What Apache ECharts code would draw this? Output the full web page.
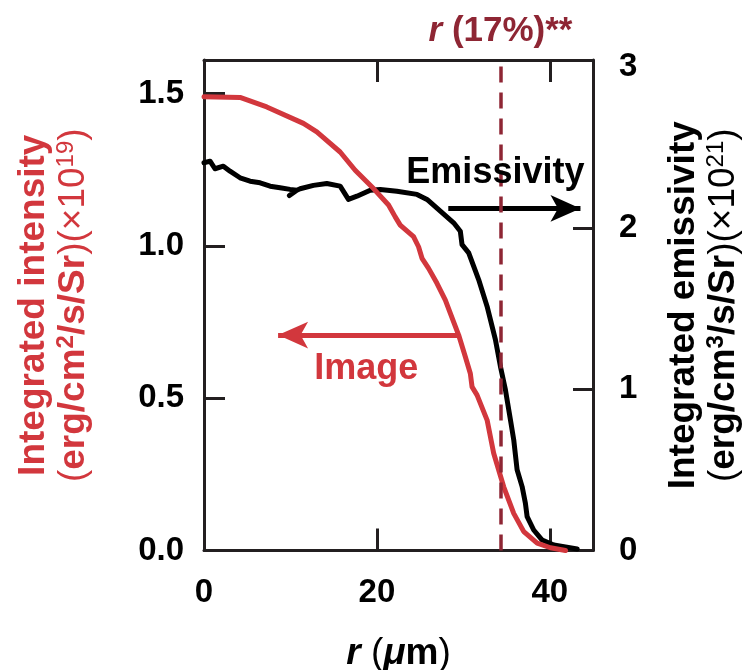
<!DOCTYPE html>
<html>
<head>
<meta charset="utf-8">
<script src="https://cdn.jsdelivr.net/npm/echarts@6/dist/echarts.min.js"></script>
<style>
  html, body { margin: 0; padding: 0; background: #fff; }
  #chart { width: 747px; height: 670px; }
</style>
</head>
<body>
<div id="chart"></div>
<script>
// radius (um) / integrated intensity of the image profile, left axis
const rImage = [0.0, 4.17, 7.26, 11.50, 13.05, 15.75, 17.49, 19.61, 21.35, 22.12, 22.70, 24.24, 24.82, 25.22, 25.98,
  26.95, 27.92, 28.50, 29.46, 30.23, 30.81, 31.01, 31.59, 32.75, 33.51, 34.67, 35.83, 36.99, 38.54, 40.08, 41.82]
const intensityImage = [1.489, 1.487, 1.456, 1.402, 1.374, 1.308, 1.248, 1.188, 1.134, 1.095, 1.068, 1.030, 0.997, 0.959, 0.926,
  0.877, 0.822, 0.778, 0.707, 0.636, 0.581, 0.537, 0.510, 0.428, 0.319, 0.209, 0.122, 0.062, 0.024, 0.009, 0.0]

// radius (um) / integrated emissivity, right axis
const rEmis = [0.0, 0.70, 1.27, 2.24, 3.01, 4.17, 5.33, 6.49, 7.65, 8.80, 9.96, 10.74, 9.88, 10.74, 11.12, 12.66,
  14.21, 15.75, 16.71, 17.69, 19.23, 20.39, 22.32, 24.64, 25.80, 27.34, 28.88, 29.65, 29.85, 30.62, 31.19, 31.77,
  32.75, 33.71, 34.29, 34.87, 35.45, 35.83, 36.22, 36.80, 37.18, 37.38, 38.14, 39.12, 40.46, 43.17]
const emissivity = [2.403, 2.413, 2.366, 2.382, 2.351, 2.310, 2.289, 2.279, 2.258, 2.248, 2.238, 2.233, 2.200, 2.233, 2.242, 2.263,
  2.275, 2.258, 2.176, 2.196, 2.233, 2.238, 2.227, 2.207, 2.176, 2.103, 2.031, 1.979, 1.896, 1.845, 1.762, 1.679,
  1.513, 1.307, 1.141, 0.996, 0.810, 0.686, 0.500, 0.396, 0.293, 0.210, 0.127, 0.065, 0.034, 0.009]

// ticks
const xTickLabels = [0, 20, 40]
const xTicks = [20, 40]
const leftTickLabels = [0, 0.5, 1.0, 1.5]
const leftTicks = [0.5, 1.0, 1.5]
const rightTickLabels = [0, 1, 2, 3]
const rightTicks = [1, 2]

// r (17%) marker and annotations (data coords)
const r17 = 34.3
const emisArrow = [[28.26, 2.12], [43.55, 2.12]]
const imageArrow = [[29.42, 0.707], [8.57, 0.707]]
const emisLabelAt = [33.71, 2.337]
const imageLabelAt = [18.77, 0.595]

const FONT = '"Liberation Sans", Arial, Helvetica, sans-serif'
const RED = '#d2373d'
const DARK_RED = '#8e2634'
const INK = '#231f20'

const axisLineStyle = { show: true, onZero: false, lineStyle: { color: INK, width: 3 } }
const tickStyle = { color: INK, width: 3 }
const labelStyle = { fontFamily: FONT, fontSize: 33, fontWeight: 'bold', color: '#000' }

function titleRich(color) {
  return {
    t: { fontFamily: FONT, fontSize: 37, fontWeight: 'bold', color, lineHeight: 40 },
    p: { fontFamily: FONT, fontSize: 37, fontWeight: 'normal', color, lineHeight: 40 },
    s: { fontFamily: FONT, fontSize: 24, fontWeight: 'normal', color, lineHeight: 24, verticalAlign: 'top' },
    sb: { fontFamily: FONT, fontSize: 24, fontWeight: 'bold', color, lineHeight: 24, verticalAlign: 'top' },
  }
}

function arrowLine(pts, color) {
  return [
    { coord: pts[0], symbol: 'none' },
    { coord: pts[1], symbol: 'arrow', symbolSize: [20, 30], lineStyle: { color, width: 5 } },
  ]
}

const chart = echarts.init(document.getElementById('chart'), null, { renderer: 'canvas' })

const option = {
  animation: false,
  textStyle: { fontFamily: FONT },
  grid: { left: 204, right: 154, top: 60, bottom: 119.5, containLabel: false, outerBoundsMode: 'none' },
  xAxis: [
    {
      type: 'value',
      min: 0,
      max: 45,
      position: 'bottom',
      axisLine: axisLineStyle,
      axisTick: { inside: true, length: 22, customValues: xTicks, lineStyle: tickStyle },
      axisLabel: { ...labelStyle, customValues: xTickLabels, margin: 26 },
      splitLine: { show: false },
      name: '{i|r}{p| (}{mu|\u03bc}{b|m}{p|)}',
      nameLocation: 'middle',
      nameGap: 82,
      nameTextStyle: {
        rich: {
          i: { fontFamily: FONT, fontSize: 37, fontWeight: 'bold', fontStyle: 'italic', color: '#000', lineHeight: 42 },
          mu: { fontFamily: FONT, fontSize: 37, fontWeight: 'bold', fontStyle: 'italic', color: '#000', lineHeight: 42 },
          b: { fontFamily: FONT, fontSize: 37, fontWeight: 'bold', color: '#000', lineHeight: 42 },
          p: { fontFamily: FONT, fontSize: 37, fontWeight: 'normal', color: '#000', lineHeight: 42 },
        },
      },
    },
    {
      type: 'value',
      min: 0,
      max: 45,
      position: 'top',
      axisLine: axisLineStyle,
      axisTick: { inside: true, length: 22, customValues: xTicks, lineStyle: tickStyle },
      axisLabel: { show: false },
      splitLine: { show: false },
    },
  ],
  yAxis: [
    {
      type: 'value',
      min: 0,
      max: 1.61,
      position: 'left',
      axisLine: axisLineStyle,
      axisTick: { inside: true, length: 21, customValues: leftTicks, lineStyle: tickStyle },
      axisLabel: { ...labelStyle, customValues: leftTickLabels, margin: 20, formatter: (v) => v.toFixed(1) },
      splitLine: { show: false },
      name: '{t|Integrated intensity}\n{p|(}{t|erg/cm}{sb|2}{t|/s/Sr}{p|)(\u00d710}{s|19}{p|)}',
      nameLocation: 'middle',
      nameRotate: 90,
      nameGap: 110,
      nameTextStyle: { rich: titleRich(RED) },
    },
    {
      type: 'value',
      min: 0,
      max: 3.04,
      position: 'right',
      axisLine: axisLineStyle,
      axisTick: { inside: true, length: 20, customValues: rightTicks, lineStyle: tickStyle },
      axisLabel: { ...labelStyle, customValues: rightTickLabels, margin: 26 },
      splitLine: { show: false },
      name: '{t|Integrated emissivity}\n{p|(}{t|erg/cm}{sb|3}{t|/s/Sr}{p|)(\u00d710}{s|21}{p|)}',
      nameLocation: 'middle',
      nameRotate: 90,
      nameGap: 71,
      nameTextStyle: { rich: titleRich('#000') },
    },
  ],
  series: [
    {
      name: 'Emissivity',
      type: 'line',
      xAxisIndex: 0,
      yAxisIndex: 1,
      data: rEmis.map((r, i) => [r, emissivity[i]]),
      symbol: 'none',
      lineStyle: { color: '#000', width: 5, join: 'round', cap: 'round' },
      z: 2,
      markLine: {
        silent: true,
        animation: false,
        symbol: 'none',
        label: { show: false },
        lineStyle: { color: '#000', width: 5, type: 'solid' },
        data: [
          arrowLine(emisArrow, '#000'),
          {
            xAxis: r17,
            symbol: 'none',
            lineStyle: { color: DARK_RED, width: 3.5, type: [16, 10] },
            label: {
              show: true,
              position: 'end',
              distance: 11,
              formatter: '{i|r}{b| (17%)**}',
              rich: {
                i: { fontFamily: FONT, fontSize: 35, fontWeight: 'bold', fontStyle: 'italic', color: DARK_RED, lineHeight: 36 },
                b: { fontFamily: FONT, fontSize: 35, fontWeight: 'bold', color: DARK_RED, lineHeight: 36 },
              },
            },
          },
        ],
      },
      markPoint: {
        silent: true,
        symbol: 'circle',
        symbolSize: 1,
        itemStyle: { color: 'rgba(0,0,0,0)' },
        label: { show: true, position: 'inside', formatter: 'Emissivity', fontFamily: FONT, fontSize: 36, fontWeight: 'bold', color: '#000' },
        data: [{ name: 'Emissivity', coord: emisLabelAt }],
      },
    },
    {
      name: 'Image',
      type: 'line',
      xAxisIndex: 0,
      yAxisIndex: 0,
      data: rImage.map((r, i) => [r, intensityImage[i]]),
      symbol: 'none',
      lineStyle: { color: RED, width: 5, join: 'round', cap: 'round' },
      z: 3,
      markLine: {
        silent: true,
        animation: false,
        symbol: 'none',
        label: { show: false },
        lineStyle: { color: RED, width: 5, type: 'solid' },
        data: [arrowLine(imageArrow, RED)],
      },
      markPoint: {
        silent: true,
        symbol: 'circle',
        symbolSize: 1,
        itemStyle: { color: 'rgba(0,0,0,0)' },
        label: { show: true, position: 'inside', formatter: 'Image', fontFamily: FONT, fontSize: 36, fontWeight: 'bold', color: RED },
        data: [{ name: 'Image', coord: imageLabelAt }],
      },
    },
  ],
}

chart.setOption(option)
</script>
</body>
</html>
